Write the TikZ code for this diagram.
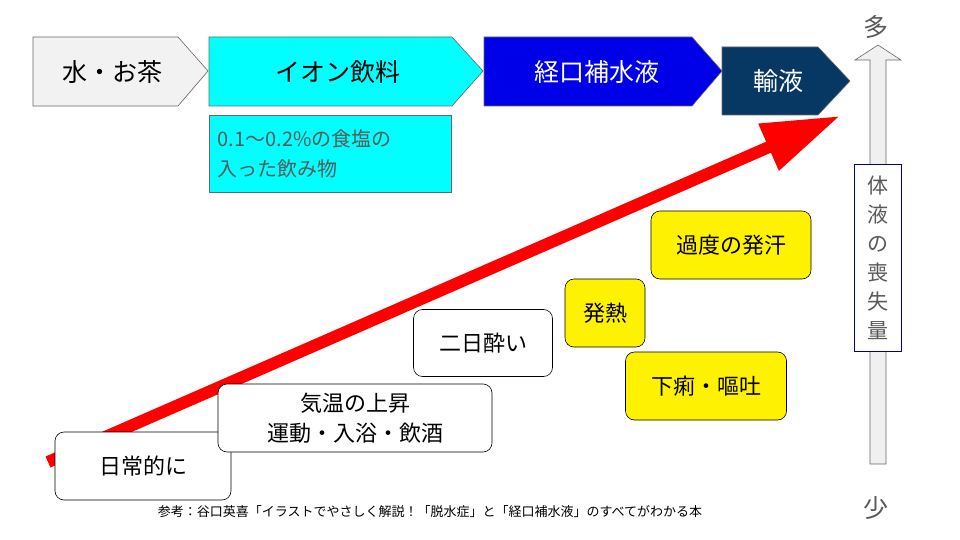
\documentclass[tikz,border=0pt]{standalone}
\usepackage{fontspec}
\setmainfont{Noto Sans CJK JP}
\usetikzlibrary{arrows.meta}
\definecolor{navy}{HTML}{073763}
\definecolor{aqua}{HTML}{00FFFF}
\definecolor{royal}{HTML}{0000E8}
\definecolor{txtgray}{HTML}{595959}
\tikzset{
    stage/.style={draw=gray!80!black, line width=0.6pt},
    stagetext/.style={font=\fontsize{25}{28}\selectfont},
    cause/.style={draw=black, rounded corners=9pt, line width=0.6pt, fill=white,
        font=\fontsize{22}{30}\selectfont, align=center},
    sign/.style={cause, fill=yellow}
}
\begin{document}
\begin{tikzpicture}[x=1pt, y=-1pt]
\useasboundingbox (0,0) rectangle (960,540);
% stages of rehydration
\draw[stage, fill=gray!10] (33,37) -- (178,37) -- (208,71) -- (178,106) -- (33,106) -- cycle;
\node[stagetext] (water) at (112,72) {水・お茶};
\draw[stage, fill=aqua] (209,37) -- (452,37) -- (483,71) -- (452,106) -- (209,106) -- cycle;
\node[stagetext] (ion) at (338,72) {イオン飲料};
\draw[stage, fill=royal] (484,37) -- (692,37) -- (722,71) -- (692,106) -- (484,106) -- cycle;
\node[stagetext, text=white] (ors) at (597,72) {経口補水液};
\draw[stage, fill=navy] (722,47) -- (818,47) -- (850,81) -- (818,115) -- (722,115) -- cycle;
\node[stagetext, text=white] (drip) at (778,81) {輸液};
\node[draw=gray!80!black, fill=aqua, minimum width=242pt, minimum height=77pt, anchor=north west,
    text width=225pt, align=left, text=txtgray, font=\fontsize{20}{30}\selectfont] (salt) at (209,115)
    {0.1〜0.2\%の食塩の\\入った飲み物};
% rising arrow
\coordinate (low) at (48,462);
\coordinate (high) at (840,116);
\draw[red, line width=12pt, -{Triangle[length=78pt, width=48pt]}] (low) -- (high);
% causes
\node[cause, minimum width=176pt, minimum height=68pt] (daily) at (143,466) {日常的に};
\node[cause, minimum width=274pt, minimum height=68pt] (heat) at (355,418) {気温の上昇\\運動・入浴・飲酒};
\node[cause, minimum width=139pt, minimum height=67pt] (hang) at (483,343) {二日酔い};
\node[sign, minimum width=160pt, minimum height=68pt] (sweat) at (731,245) {過度の発汗};
\node[sign, minimum width=80pt, minimum height=68pt] (fever) at (605,313) {発熱};
\node[sign, minimum width=161pt, minimum height=68pt] (vomit) at (706,386) {下痢・嘔吐};
% loss axis
\node[font=\fontsize{25}{28}\selectfont, text=txtgray] (many) at (876,27) {多};
\node[font=\fontsize{25}{28}\selectfont, text=txtgray] (few) at (876,508) {少};
\draw[gray!80!black, fill=gray!12, line width=0.6pt] (870,464) -- (870,60) -- (855,60) -- (878,45)
    -- (901,60) -- (886,60) -- (886,464) -- cycle;
\node[draw=blue!60!black, fill=white, minimum width=47pt, minimum height=187pt, text=txtgray,
    align=center, font=\fontsize{21}{29}\selectfont] (loss) at (878,258) {体\\液\\の\\喪\\失\\量};
\node[font=\fontsize{13}{15}\selectfont] (ref) at (430,512)
    {参考：谷口英喜「イラストでやさしく解説！「脱水症」と「経口補水液」のすべてがわかる本};
\end{tikzpicture}
\end{document}
